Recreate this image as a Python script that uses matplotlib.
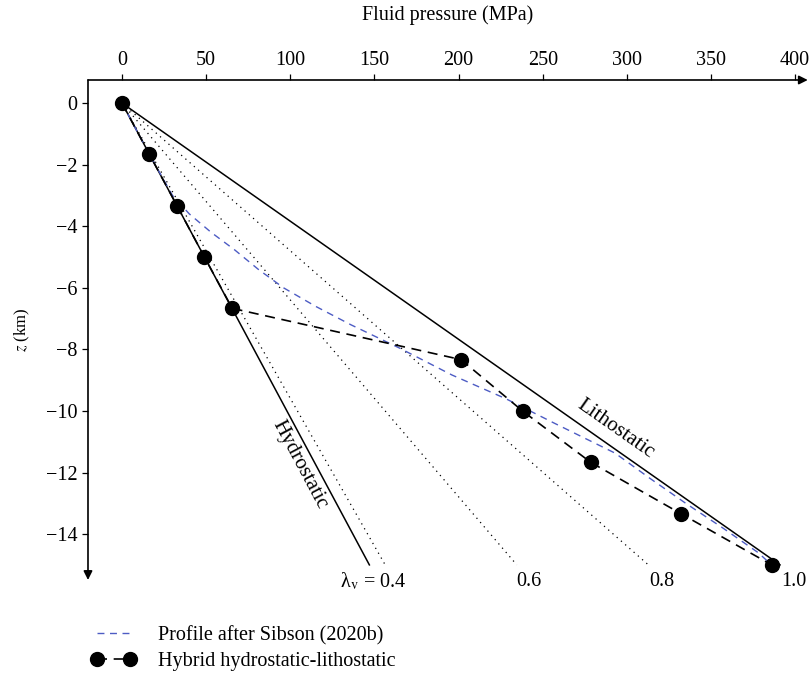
import matplotlib.pyplot as plt
import numpy as np

plt.rcParams['font.family'] = ['Liberation Serif', 'DejaVu Serif']
plt.rcParams['mathtext.fontset'] = 'stix'

# depth (km) and fluid pressure (MPa)
z_end = -15.0
p_hydro_end = 147.0
p_litho_end = 391.0
lambdas = [0.4, 0.6, 0.8]
lambda_labels = ['λ$_{\\rm v}$ = 0.4', '0.6', '0.8', '1.0']

# hybrid hydrostatic-lithostatic points
hyb_z = [0, -1.667, -3.333, -5.0, -6.667, -8.333, -10.0, -11.667, -13.333, -15.0]
hyb_p = [0, 16.3, 32.7, 49.0, 65.5, 201.5, 238.0, 278.5, 332.0, 386.0]

# profile after Sibson (2020b)
sib_z = [0, -1.667, -3.0, -3.6, -4.2, -4.77, -5.4, -6.0, -6.6, -7.2, -7.96,
         -8.83, -9.6, -10.4, -11.37, -12.2, -13.0, -13.8, -14.6, -15.0]
sib_p = [0, 16.3, 30.0, 40.0, 53.0, 67.0, 81.0, 96.0, 115.0, 136.0, 165.0,
         196.0, 228.0, 257.0, 293.0, 314.0, 335.0, 357.0, 378.0, 386.0]

fig = plt.figure(figsize=(8.11, 6.82), dpi=100)
ax = fig.add_axes([0.1085, 0.1496, 0.8875, 0.7331])

ax.plot([0, p_hydro_end], [0, z_end], color='black', lw=1.1)
ax.plot([0, p_litho_end], [0, z_end], color='black', lw=1.1)
for lam in lambdas:
    ax.plot([0, lam * p_litho_end], [0, z_end], color='black', lw=0.9,
            linestyle=(0, (1, 3.5)))

ax.plot(sib_p, sib_z, color='#4d5cc4', lw=1.0, dashes=(5, 4),
        label='Profile after Sibson (2020b)')
ax.plot(hyb_p, hyb_z, color='black', lw=1.2, dashes=(6, 4), marker='o',
        markersize=10, label='Hybrid hydrostatic-lithostatic')

fs = 14.5
ax.text(105.6, -11.75, 'Hydrostatic', rotation=-62, rotation_mode='anchor',
        ha='center', va='center', fontsize=15)
ax.text(293.5, -10.6, 'Lithostatic', rotation=-35, rotation_mode='anchor',
        ha='center', va='center', fontsize=15)

lab_x = [149, 242, 321, 399]
for x, s in zip(lab_x, lambda_labels):
    ax.text(x, -15.55, s, ha='center', va='center', fontsize=fs)

ax.set_xlim(-20.2, 407.5)
ax.set_ylim(-15.49, 0.75)
ax.set_xticks(np.arange(0, 401, 50))
ax.set_yticks(np.arange(-14, 1, 2))
ax.xaxis.tick_top()
ax.xaxis.set_label_position('top')
ax.tick_params(labelsize=fs, length=4, width=0.9, direction='out')
ax.set_xlabel('Fluid pressure (MPa)', fontsize=fs, labelpad=22)
ax.set_ylabel(r'$z$ (km)', fontsize=12, labelpad=10)

for s in ['top', 'right', 'bottom', 'left']:
    ax.spines[s].set_visible(False)
ax.annotate('', xy=(1.0, 1.0), xytext=(0, 1.0), xycoords='axes fraction',
            arrowprops=dict(arrowstyle='-|>', color='black', lw=1.2,
                            mutation_scale=13, shrinkA=0, shrinkB=0))
ax.annotate('', xy=(0, 0), xytext=(0, 1.0), xycoords='axes fraction',
            arrowprops=dict(arrowstyle='-|>', color='black', lw=1.2,
                            mutation_scale=13, shrinkA=0, shrinkB=0))

fig.legend(loc='upper left', bbox_to_anchor=(0.112, 0.082), frameon=False,
           fontsize=fs, numpoints=2, handlelength=2.25, handletextpad=1.1,
           labelspacing=0.3, borderpad=0, borderaxespad=0)

fig.savefig('out.png', dpi=100)
